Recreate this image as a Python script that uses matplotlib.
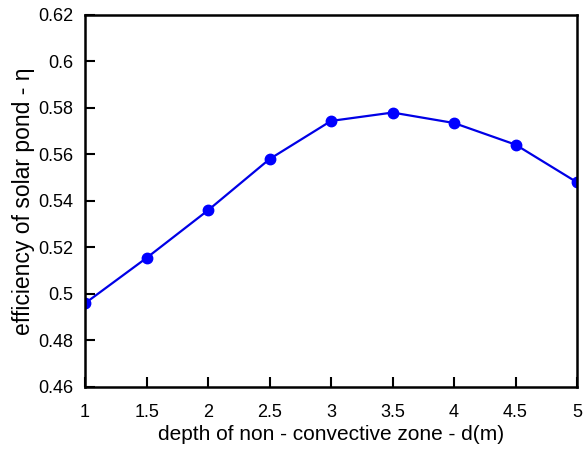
import matplotlib
matplotlib.use("Agg")
import matplotlib.pyplot as plt

plt.rcParams['font.family'] = ['Liberation Sans', 'DejaVu Sans']

# depth of the non-convective zone (m) and resulting pond efficiency
depth = [1, 1.5, 2, 2.5, 3, 3.5, 4, 4.5, 5]
efficiency = [0.496, 0.5155, 0.536, 0.558, 0.5744, 0.578, 0.5735, 0.5642, 0.548]
x_ticks = [1, 1.5, 2, 2.5, 3, 3.5, 4, 4.5, 5]
x_labels = ['1', '1.5', '2', '2.5', '3', '3.5', '4', '4.5', '5']
y_ticks = [0.46, 0.48, 0.5, 0.52, 0.54, 0.56, 0.58, 0.6, 0.62]
y_labels = ['0.46', '0.48', '0.5', '0.52', '0.54', '0.56', '0.58', '0.6', '0.62']

fig = plt.figure(figsize=(5.87, 4.51), dpi=100)
ax = fig.add_axes([0.145, 0.142, 0.838, 0.825])

ax.plot(depth, efficiency, color='#0000e6', linewidth=1.6,
        marker='o', markersize=7.5, markerfacecolor='#0000ff', markeredgecolor='#0000ff')

ax.set_xlim(1, 5)
ax.set_ylim(0.46, 0.62)
ax.set_xticks(x_ticks)
ax.set_xticklabels(x_labels)
ax.set_yticks(y_ticks)
ax.set_yticklabels(y_labels)

for side in ax.spines.values():
    side.set_linewidth(1.8)
ax.tick_params(direction='in', length=7, width=1.5, labelsize=13,
               top=False, right=False)
ax.tick_params(axis='x', pad=12)
ax.tick_params(axis='y', pad=8.5)

ax.set_xlabel('depth of non - convective zone - d(m)', fontsize=15, labelpad=3)
ax.set_ylabel('efficiency of solar pond - η', fontsize=16.5, labelpad=2)

fig.savefig('out.png', dpi=100)
